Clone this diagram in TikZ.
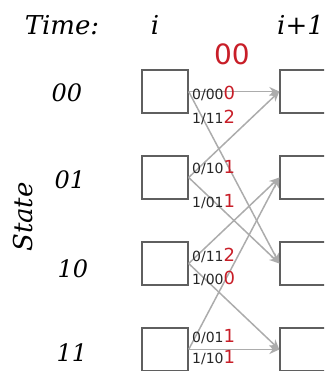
\documentclass[tikz,border=0pt]{standalone}
\usepackage{fontspec}
\newfontfamily\bitfont{DejaVu Sans}
\newfontfamily\headfont{DejaVu Serif}
\usetikzlibrary{arrows.meta}
\definecolor{bitred}{RGB}{200,30,40}
\definecolor{edgegray}{RGB}{172,172,172}
\definecolor{boxgray}{RGB}{95,95,95}
\tikzset{
  statebox/.style={draw=boxgray, line width=1.3pt, minimum width=46pt, minimum height=43pt, inner sep=0pt},
  branch/.style={edgegray, line width=1.5pt, -{Stealth[length=10pt,width=9pt]}},
  head/.style={anchor=base, inner sep=0pt, font=\headfont\itshape\fontsize{26}{28}\selectfont},
  statelbl/.style={anchor=base, inner sep=0pt, font=\headfont\itshape\fontsize{24}{26}\selectfont},
  branchlbl/.style={anchor=west, inner sep=0pt, text=black!85, font=\bitfont\fontsize{14}{15}\selectfont},
}
% last output bit in red, a bit larger
\newcommand{\rbit}[1]{{\fontsize{18}{18}\selectfont\color{bitred}#1}}
\begin{document}
\begin{tikzpicture}[x=1pt, y=-1pt]
    \clip (0,0) rectangle (324,371);
    % headings
    \node[head] (time) at (62,35) {Time:};
    \node[head] (ti) at (155,35) {i};
    \node[head, anchor=base west] (tj) at (277,35) {i+1};
    \node[font=\bitfont\fontsize{28}{30}\selectfont, text=bitred] (tag) at (232,54) {00};
    \node[head, rotate=90] (state) at (32,217) {State};
    % states at time i and i+1
    \foreach \s/\y in {00/91.5, 01/177.5, 10/263.5, 11/349.5} {
        \node[statebox] (s\s) at (165,\y) {};
        \node[statebox] (t\s) at (303,\y) {};
    }
    \node[statelbl] (n00) at (67,102) {00};
    \node[statelbl] (n01) at (70,188) {01};
    \node[statelbl] (n10) at (73,277) {10};
    \node[statelbl] (n11) at (72,361) {11};
    % branches
    \draw[branch] (s00.east) -- (t00.west);
    \draw[branch] (s00.east) -- (t10.west);
    \draw[branch] (s01.east) -- (t00.west);
    \draw[branch] (s01.east) -- (t10.west);
    \draw[branch] (s10.east) -- (t01.west);
    \draw[branch] (s10.east) -- (t11.west);
    \draw[branch] (s11.east) -- (t01.west);
    \draw[branch] (s11.east) -- (t11.west);
    % input/output labels
    \node[branchlbl] (b00a) at (192,93) {0/00\rbit{0}};
    \node[branchlbl] (b00b) at (192,117) {1/11\rbit{2}};
    \node[branchlbl] (b01a) at (192,168) {0/10\rbit{1}};
    \node[branchlbl] (b01b) at (192,202) {1/01\rbit{1}};
    \node[branchlbl] (b10a) at (192,255) {0/11\rbit{2}};
    \node[branchlbl] (b10b) at (192,278) {1/00\rbit{0}};
    \node[branchlbl] (b11a) at (192,337) {0/01\rbit{1}};
    \node[branchlbl] (b11b) at (192,358) {1/10\rbit{1}};
\end{tikzpicture}
\end{document}
